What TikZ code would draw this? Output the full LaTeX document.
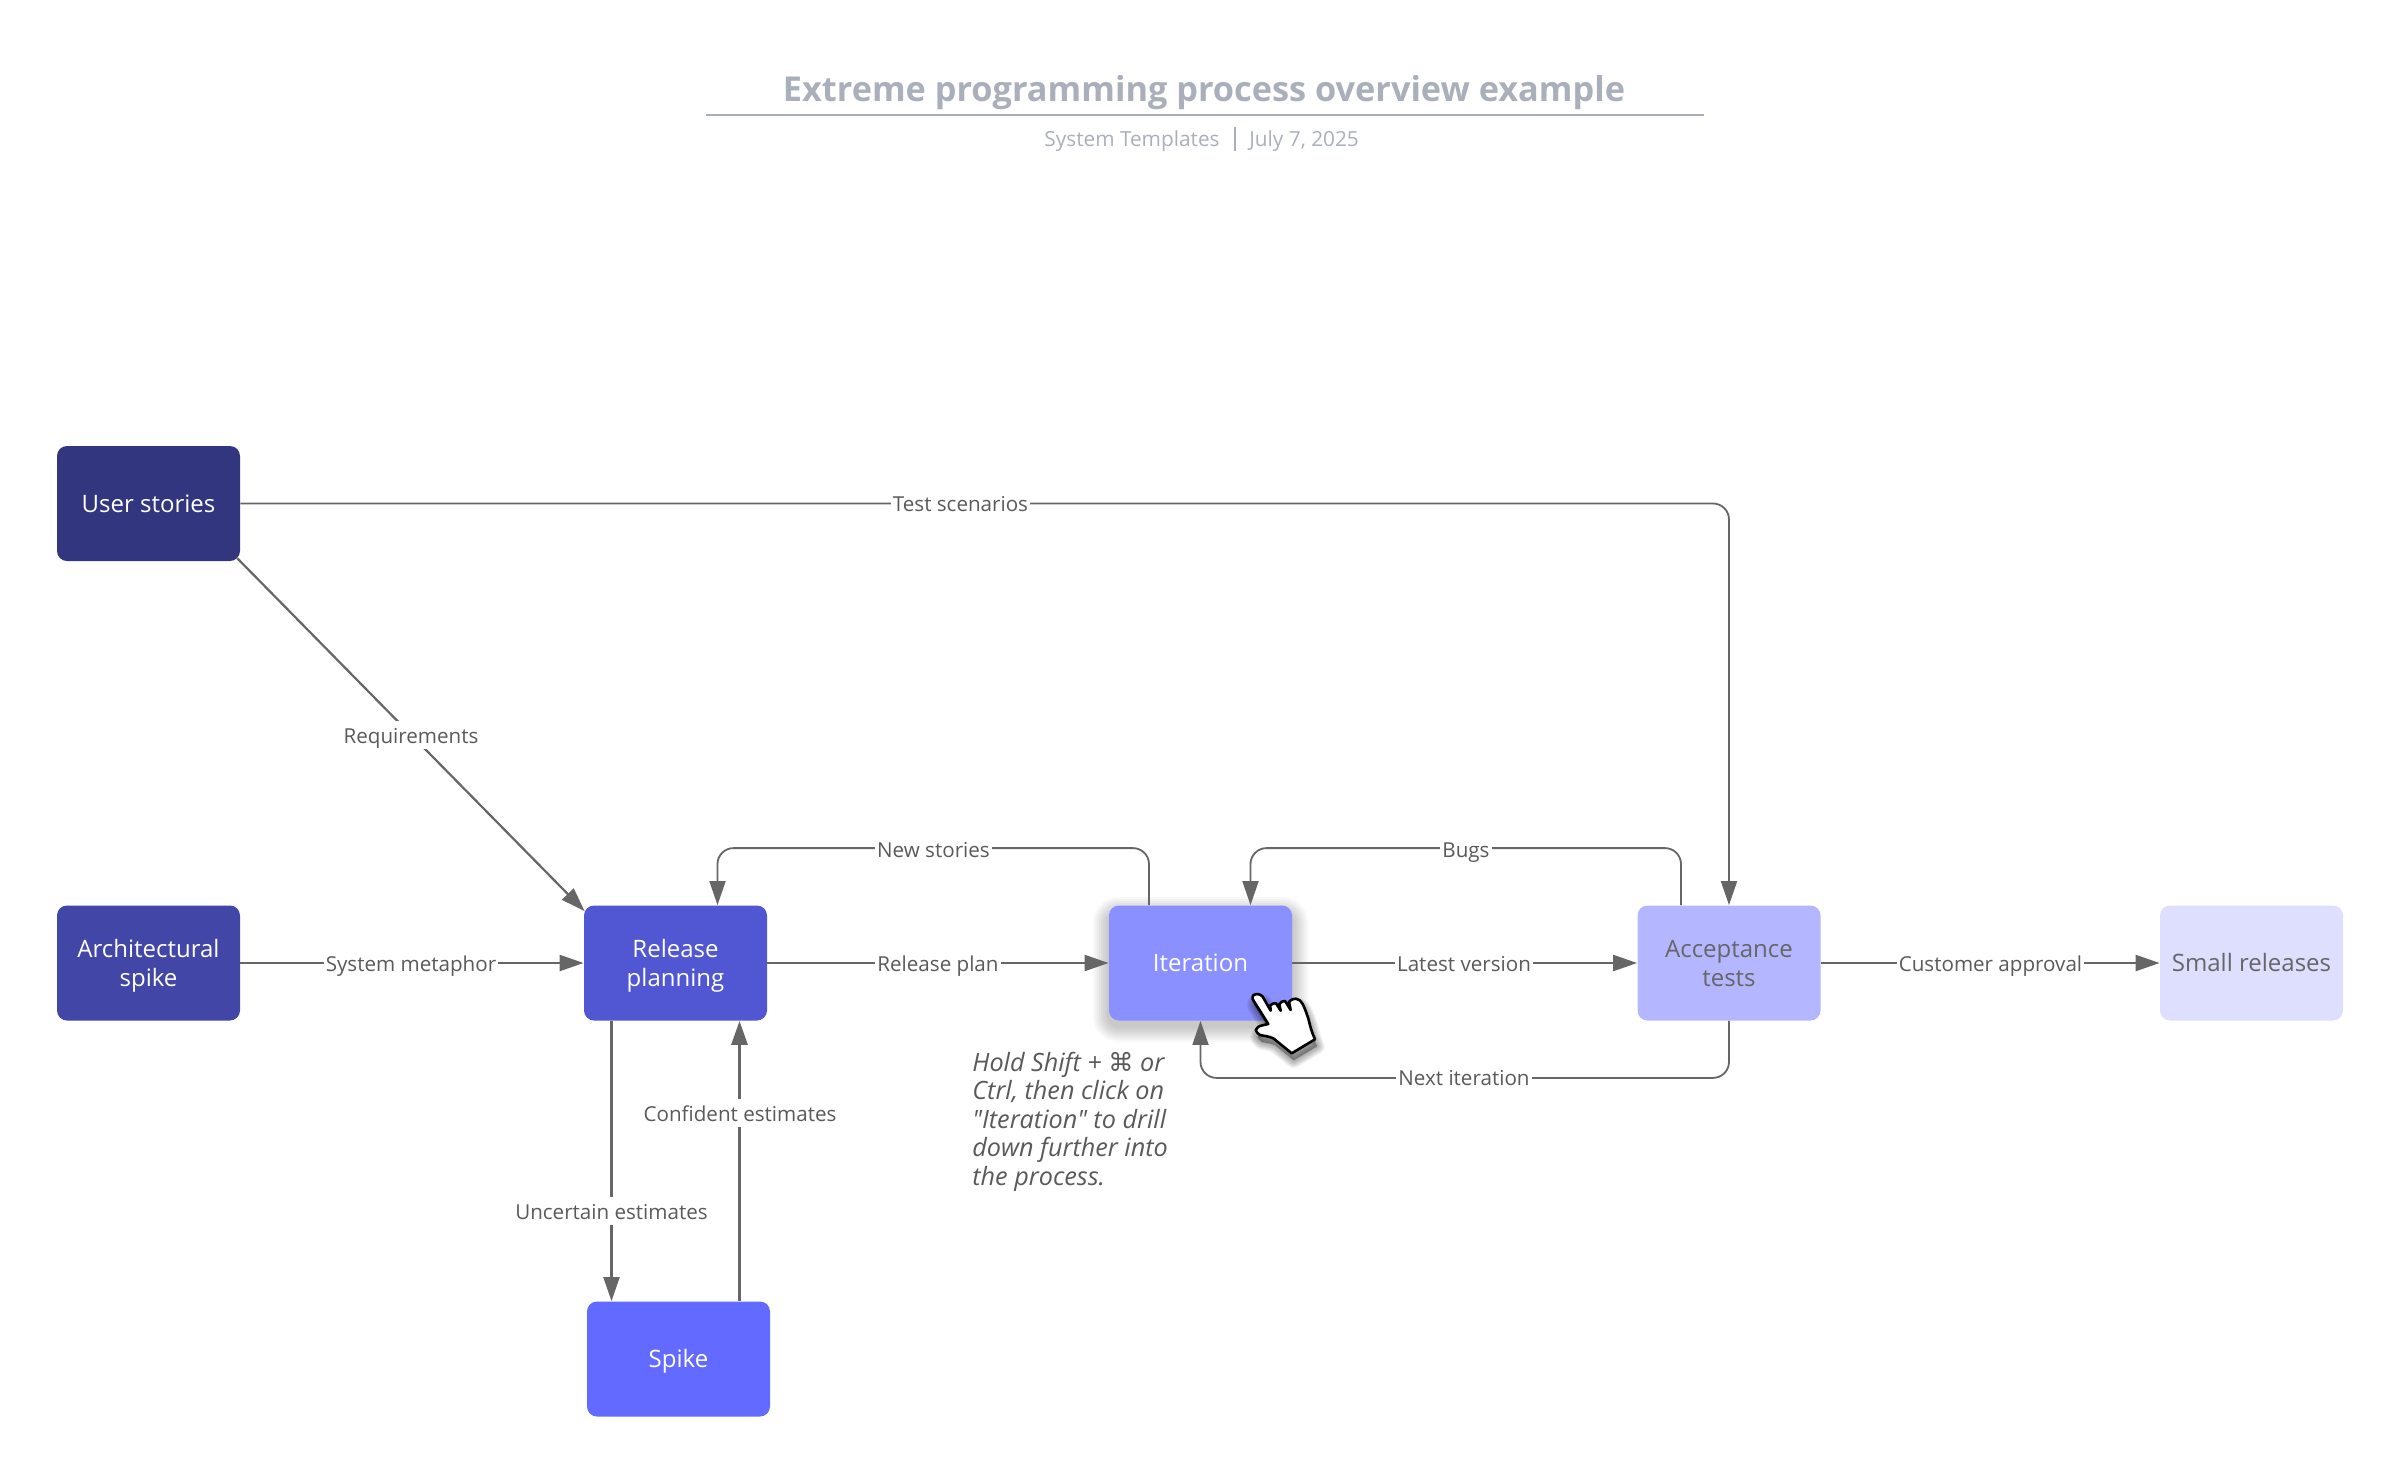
\documentclass[tikz,border=0pt]{standalone}
\usepackage{fontspec}
\setmainfont{Open Sans}
\newfontfamily\notefont{Open Sans}
\newfontfamily\symfont{DejaVu Sans}
\usetikzlibrary{arrows.meta}
\normallineskiplimit=-20pt
\lineskiplimit=-20pt
\definecolor{cline}{HTML}{666666}
\definecolor{clab}{HTML}{5A5A5A}
\definecolor{ctitle}{HTML}{AAB0BB}
\definecolor{cus}{HTML}{32367F}
\definecolor{carch}{HTML}{4246A6}
\definecolor{crel}{HTML}{5157D3}
\definecolor{cspike}{HTML}{636AFF}
\definecolor{citer}{HTML}{8A90FF}
\definecolor{cacc}{HTML}{B4B7FF}
\definecolor{csmall}{HTML}{DEDFFF}
\newcommand\bst{\vrule height 11.8pt depth 3.2pt width 0pt\relax}
\newcommand\handpath{(1252.7,999.3) .. controls (1252,995) and (1254,994) .. (1256.7,994)
  .. controls (1260,994) and (1261,995) .. (1262.7,996.7)
  -- (1270.7,1010.7) -- (1270.2,1005.5) .. controls (1272,1003.5) and (1274,1003) .. (1276,1003.3)
  -- (1280.7,1010.7) -- (1279.3,1004) .. controls (1281,1001.5) and (1283,1001) .. (1285,1001)
  -- (1290.7,1010) -- (1289,1001.8) .. controls (1292,999) and (1294,998.5) .. (1296,998.7)
  .. controls (1299,999) and (1301,1001) .. (1302.7,1004)
  .. controls (1306,1011) and (1307,1015) .. (1308.3,1018.3)
  .. controls (1310,1026) and (1312,1033) .. (1315,1039.3)
  -- (1291.7,1053.3) -- (1273.3,1038.3) .. controls (1268,1036) and (1264,1036) .. (1260,1035)
  .. controls (1258,1033.5) and (1256,1032) .. (1255.7,1030)
  .. controls (1257,1027) and (1259,1026.5) .. (1260,1026)
  .. controls (1263,1025) and (1266,1024.5) .. (1268.3,1024) -- cycle}
\tikzset{
  x=0.5pt,y=-0.5pt,
  box/.style={rounded corners=5pt,minimum width=91.5pt,minimum height=57.5pt,inner sep=0pt,align=center,
    font=\fontsize{12}{14.5}\selectfont,text=white},
  conn/.style={draw=cline,line width=1.1pt,-{Triangle[length=12pt,width=8pt]}},
  elbow/.style={conn,line width=0.9pt,rounded corners=8pt},
  lab/.style={fill=white,inner xsep=1pt,inner ysep=3pt,text height=8pt,text depth=0pt,text=clab,font=\fontsize{10.3}{12}\selectfont},
  subt/.style={inner sep=0pt,text=ctitle,font=\fontsize{10.4}{12}\selectfont},
}
\begin{document}
\begin{tikzpicture}
\useasboundingbox (0,0) rectangle (2400,1473);
\fill[white] (0,0) rectangle (2400,1473);
% title
\node[text=ctitle,font=\fontsize{17.15}{20}\bfseries\selectfont,anchor=base] (title) at (1204,101) {Extreme programming process overview example};
\coordinate (ruleL) at (706,115);
\coordinate (ruleR) at (1704,115);
\draw[ctitle,line width=1.1pt] (ruleL) -- (ruleR);
\node[subt,anchor=base east] (sub1) at (1220,146) {System Templates};
\node[subt,anchor=base west] (sub2) at (1249,146) {July 7, 2025};
\coordinate (sepT) at (1235,127);
\coordinate (sepB) at (1235,151);
\draw[ctitle,line width=0.7pt] (sepT) -- (sepB);
% soft shadow of the Iteration box
\foreach \g in {1,...,8}
  \fill[black,opacity=0.028,rounded corners=5pt+\g*1pt]
    (1109-\g*2,906+7-\g*2) rectangle (1292+\g*2,1020+6+\g*2);
% boxes
\node[box,fill=cus] (us) at (148.5,503.5) {\bst User stories};
\node[box,fill=carch] (arch) at (148.5,963) {\bst Architectural\\\bst spike};
\node[box,fill=crel] (rel) at (675.5,963) {\bst Release\\\bst planning};
\node[box,fill=cspike] (spike) at (678.5,1359) {\bst Spike};
\node[box,fill=citer] (iter) at (1200.5,963) {\bst Iteration};
\node[box,fill=cacc,text=cline] (acc) at (1729,963) {\bst Acceptance\\\bst tests};
\node[box,fill=csmall,text=cline] (small) at (2251.5,963) {\bst Small releases};
% connectors
\draw[elbow] (us.east) -| (acc.north);
\draw[conn] ([shift={(-1.5pt,1.5pt)}]us.south east) -- ([shift={(0.5pt,-3pt)}]rel.north west);
\draw[conn] (arch) -- (rel);
\draw[conn] (rel) -- (iter);
\draw[conn] (iter) -- (acc);
\draw[conn] (acc) -- (small);
\draw[elbow] ([xshift=-25.75pt]iter.north) -- ++(0,-57) -| ([xshift=21pt]rel.north);
\draw[elbow] ([xshift=-24pt]acc.north) -- ++(0,-57) -| ([xshift=25pt]iter.north);
\draw[elbow] (acc.south) -- ++(0,57) -| (iter.south);
\draw[conn] ([xshift=-32pt]rel.south) -- ([xshift=-33.5pt]spike.north);
\draw[conn,line width=1.5pt] ([xshift=30.5pt]spike.north) -- ([xshift=32pt]rel.south);
% labels
\node[lab] (l1) at (960.5,503.5) {Test scenarios};
\node[lab] (l2) at (411,735) {Requirements};
\node[lab] (l3) at (411,963) {System metaphor};
\node[lab] (l4) at (938,963) {Release plan};
\node[lab] (l5) at (933.5,849) {New stories};
\node[lab] (l6) at (1466,849) {Bugs};
\node[lab] (l7) at (1464,963) {Latest version};
\node[lab] (l8) at (1990.5,963) {Customer approval};
\node[lab] (l9) at (1464,1077) {Next iteration};
\node[lab] (l10) at (611.5,1211) {Uncertain estimates};
\node[lab] (l11) at (740,1113) {Confident estimates};
% note
\node[anchor=north west,inner sep=0pt,align=left,text=clab,font=\notefont\fontsize{12.6}{14.3}\itshape\selectfont] (note) at (972,1051.5)
 {Hold Shift + {\symfont ⌘} or\\Ctrl, then click on\\"Iteration" to drill\\down further into\\the process.};
% hand cursor
\foreach \g in {1,...,7}
  \draw[black,fill=black,opacity=0.05,line width=\g*1.1pt,line join=round,shift={(2,7)}] \handpath;
\draw[draw=black,line width=1.3pt,fill=white,line join=round] \handpath;
\end{tikzpicture}
\end{document}
